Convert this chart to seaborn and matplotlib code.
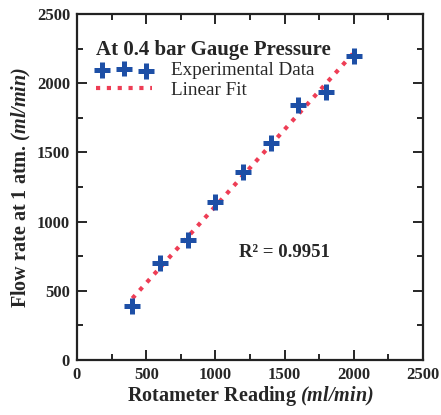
import numpy as np
import pandas as pd
import seaborn as sns
import matplotlib
matplotlib.use("Agg")
import matplotlib.pyplot as plt
from matplotlib.ticker import MultipleLocator

rotameter = [400, 600, 800, 1000, 1200, 1400, 1600, 1800, 2000]
flow = [390, 700, 867, 1140, 1360, 1565, 1840, 1935, 2200]
title_text = "At 0.4 bar Gauge Pressure"
r2_text = "R² = 0.9951"

sns.set_style("ticks")
plt.rcParams['font.family'] = ['Liberation Serif', 'DejaVu Serif']
plt.rcParams['mathtext.fontset'] = 'custom'
plt.rcParams['mathtext.rm'] = 'Liberation Serif'
plt.rcParams['mathtext.bf'] = 'Liberation Serif:bold'
plt.rcParams['mathtext.it'] = 'Liberation Serif:italic'
plt.rcParams['mathtext.bfit'] = 'Liberation Serif:bold:italic'

df = pd.DataFrame({"x": rotameter, "y": flow})
slope, intercept = np.polyfit(df.x, df.y, 1)
fit = pd.DataFrame({"x": [min(rotameter), max(rotameter)]})
fit["y"] = slope * fit.x + intercept

fig = plt.figure(figsize=(4.41, 4.15), dpi=100)
ax = fig.add_axes([0.1746, 0.1325, 0.7846, 0.8337])

blue = "#1d4fa6"
red = "#ee3d55"
sns.lineplot(data=fit, x="x", y="y", ax=ax, color=red, linestyle=(0, (1, 1.6)),
             linewidth=3, label="Linear Fit", zorder=2)
sns.scatterplot(data=df, x="x", y="y", ax=ax, marker="+", s=130, color=blue,
                linewidth=3.6, label="Experimental Data", zorder=3)

ax.set_xlim(0, 2500)
ax.set_ylim(0, 2500)
ax.xaxis.set_major_locator(MultipleLocator(500))
ax.yaxis.set_major_locator(MultipleLocator(500))
ax.xaxis.set_minor_locator(MultipleLocator(250))
ax.yaxis.set_minor_locator(MultipleLocator(250))
ax.tick_params(which='both', direction='in', top=True, right=True, width=1.4)
ax.tick_params(which='major', length=7, labelsize=12, pad=5)
ax.tick_params(which='minor', length=4)
for lab in ax.get_xticklabels() + ax.get_yticklabels():
    lab.set_fontweight('bold')
for s in ax.spines.values():
    s.set_linewidth(1.6)
    s.set_color('#222222')

ax.set_xlabel(r"Rotameter Reading $\mathbfit{(ml/min)}$", fontsize=14.5, fontweight='bold', labelpad=1)
ax.set_ylabel(r"Flow rate at 1 atm. $\mathbfit{(ml/min)}$", fontsize=14.5, fontweight='bold', labelpad=3)

handles, labels = ax.get_legend_handles_labels()
order = [labels.index("Experimental Data"), labels.index("Linear Fit")]
leg = ax.legend([handles[i] for i in order], [labels[i] for i in order],
                title=title_text, loc='upper left', frameon=False,
                bbox_to_anchor=(0.005, 0.975), fontsize=13.8, scatterpoints=3,
                handlelength=2.9, handletextpad=1.0, labelspacing=0.1,
                borderpad=0.4)
leg.get_title().set_fontweight('bold')
leg.get_title().set_fontsize(15)
leg._legend_box.align = "left"

ax.text(1496, 780, r2_text, fontsize=13.5, fontweight='bold', ha='center', va='center')

fig.savefig("out.png", dpi=100)
